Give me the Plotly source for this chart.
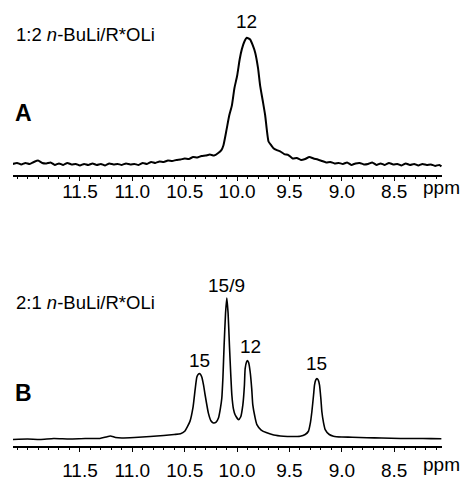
import plotly.graph_objects as go

# ---------------- data ----------------
# Panel A: 1:2 n-BuLi/R*OLi  (chemical shift in ppm, intensity in arbitrary units)
ppm_a = [12.14, 12.10, 12.06, 12.02, 11.98, 11.94, 11.90, 11.86, 11.82, 11.78, 11.74, 11.70,
         11.66, 11.62, 11.58, 11.54, 11.50, 11.46, 11.42, 11.38, 11.34, 11.30, 11.26, 11.22,
         11.18, 11.14, 11.10, 11.06, 11.02, 10.98, 10.94, 10.90, 10.86, 10.82, 10.78, 10.74,
         10.70, 10.66, 10.62, 10.58, 10.54, 10.50, 10.46, 10.42, 10.38, 10.34, 10.30, 10.26,
         10.22, 10.18, 10.15, 10.13, 10.10, 10.075, 10.05, 10.025, 10.00, 9.975, 9.955, 9.93,
         9.907, 9.89, 9.875, 9.85, 9.827, 9.80, 9.78, 9.755, 9.732, 9.70, 9.675, 9.653, 9.62,
         9.589, 9.55, 9.51, 9.47, 9.43, 9.39, 9.35, 9.31, 9.27, 9.23, 9.19, 9.15, 9.11, 9.07,
         9.03, 8.99, 8.95, 8.91, 8.87, 8.83, 8.79, 8.75, 8.71, 8.67, 8.63, 8.59, 8.55, 8.51,
         8.47, 8.43, 8.39, 8.35, 8.31, 8.27, 8.23, 8.19, 8.15, 8.11, 8.07, 8.05]
int_a = [11, 12, 10.5, 12, 11, 13, 14.5, 12, 11.5, 12.5, 10, 11.5,
         10, 12, 10.5, 11, 9.5, 11, 10, 11.5, 10, 11, 9.5, 11.5,
         10.5, 11, 10, 11.5, 10.5, 11, 10, 12, 11, 13, 12, 13.5,
         13, 14.5, 14, 15, 15.5, 16.5, 16, 18, 17.5, 19, 19.5, 20.5,
         19.5, 22, 25, 30, 46, 60, 70, 88, 100, 117, 127, 135,
         138.7, 138, 137, 131, 123.7, 108, 90.3, 75, 60.3, 33.7, 30, 27, 25,
         23.7, 21, 20, 16.5, 17, 15, 16, 18, 16.5, 15.5, 14, 12.5, 13, 11.5,
         12, 11, 12.5, 10, 11.5, 12, 10.5, 11, 12.5, 10, 11.5, 10, 12, 10.5,
         11, 9.5, 11.5, 10, 11, 9.5, 11, 10, 10.5, 9, 10, 8.5]

# Panel B: 2:1 n-BuLi/R*OLi
ppm_b = [12.14, 12.00, 11.88, 11.75, 11.60, 11.45, 11.31, 11.25, 11.21, 11.16, 11.10, 10.98,
         10.83, 10.70, 10.60, 10.54, 10.50, 10.45, 10.42, 10.40, 10.384, 10.37, 10.36, 10.35,
         10.337, 10.32, 10.305, 10.274, 10.25, 10.226, 10.20, 10.178, 10.16, 10.146, 10.135,
         10.124, 10.11, 10.098, 10.086, 10.073, 10.06, 10.05, 10.035, 10.019, 9.987, 9.965,
         9.945, 9.93, 9.923, 9.91, 9.901, 9.89, 9.875, 9.86, 9.85, 9.83, 9.811, 9.77, 9.716,
         9.65, 9.557, 9.48, 9.398, 9.35, 9.319, 9.30, 9.286, 9.27, 9.261, 9.25, 9.238, 9.225,
         9.213, 9.20, 9.191, 9.175, 9.159, 9.12, 9.08, 9.00, 8.90, 8.76, 8.62, 8.44, 8.30,
         8.15, 8.05]
int_b = [7, 7.5, 7, 8, 7.5, 8, 8, 9.5, 10.5, 9, 8.5, 9,
         10, 11, 12, 12.7, 15.3, 25.3, 40, 58, 70.3, 73, 73.7, 73,
         70.3, 62, 52, 33.7, 26, 23.7, 24.5, 28.7, 38, 48.7, 70,
         102, 135, 150.3, 135, 102, 72, 52, 38, 32, 27, 30,
         42, 62, 78.7, 85.5, 87, 85, 75.3, 58, 42, 30, 22, 16.5, 13.7,
         11.5, 10.3, 10, 10.3, 12, 15.3, 24, 35.3, 52, 62, 67, 68.7, 67,
         62, 48, 35.3, 24, 17, 12, 10.3, 9.5, 9.3, 8.7, 8.5, 8, 8,
         7.8, 7.7]

tick_vals = [11.5, 11.0, 10.5, 10.0, 9.5, 9.0, 8.5]
tick_text = ["11.5", "11.0", "10.5", "10.0", "9.5", "9.0", "8.5"]

label_a = "1:2 <i>n</i>-BuLi/R*OLi"
label_b = "2:1 <i>n</i>-BuLi/R*OLi"
peaks_a = [(9.907, "12")]
peaks_b = [(10.36, "15"), (10.098, "15/9"), (9.87, "12"), (9.238, "15")]

# ---------------- figure ----------------
FONT = "Liberation Sans, Arial, Helvetica, sans-serif"
W, H = 465, 481
L, R = 13, 23
x_range = [12.139, 8.044]

fig = go.Figure()
fig.add_trace(go.Scatter(x=ppm_a, y=int_a, mode="lines", xaxis="x", yaxis="y",
                         line=dict(color="black", width=2, shape="spline", smoothing=0.5),
                         showlegend=False, hoverinfo="skip"))
fig.add_trace(go.Scatter(x=ppm_b, y=int_b, mode="lines", xaxis="x2", yaxis="y2",
                         line=dict(color="black", width=1.6, shape="spline", smoothing=0.5),
                         showlegend=False, hoverinfo="skip"))

def py(pix):
    return (H - pix) / H

def px(pix):
    return (pix - L) / (W - L - R)

xcommon = dict(range=x_range, showgrid=False, zeroline=False, showline=True,
               linecolor="black", linewidth=2, ticks="outside", ticklen=4, tickwidth=1.3,
               tickcolor="black", tickmode="array", tickvals=tick_vals, ticktext=tick_text,
               tickfont=dict(family=FONT, size=19, color="black"),
               minor=dict(dtick=0.1, ticks="outside", ticklen=2, tickwidth=1, tickcolor="black",
                          showgrid=False),
               fixedrange=True)
ycommon = dict(visible=False, showgrid=False, zeroline=False, fixedrange=True)

fig.update_layout(
    width=W, height=H, margin=dict(l=L, r=R, t=0, b=0),
    paper_bgcolor="white", plot_bgcolor="white",
    xaxis=dict(**xcommon, anchor="y", domain=[0, 1], ticklabelstandoff=-6),
    yaxis=dict(**ycommon, domain=[py(177), 1], range=[0, 177]),
    xaxis2=dict(**xcommon, anchor="y2", domain=[0, 1], ticklabelstandoff=2),
    yaxis2=dict(**ycommon, domain=[py(452), py(240)], range=[0, 212]),
    font=dict(family=FONT, color="black"),
)

ann = []
ann.append(dict(text=label_a, xref="paper", yref="paper", x=px(14), y=py(35),
                xanchor="left", yanchor="middle", showarrow=False, font=dict(size=18.5)))
ann.append(dict(text="<b>A</b>", xref="paper", yref="paper", x=px(13), y=py(114),
                xanchor="left", yanchor="middle", showarrow=False, font=dict(size=23)))
ann.append(dict(text=label_b, xref="paper", yref="paper", x=px(14), y=py(306),
                xanchor="left", yanchor="middle", showarrow=False, font=dict(size=18.5)))
ann.append(dict(text="<b>B</b>", xref="paper", yref="paper", x=px(13), y=py(398),
                xanchor="left", yanchor="middle", showarrow=False, font=dict(size=23)))
for pos, txt in peaks_a:
    ann.append(dict(text=txt, xref="x", yref="paper", x=pos, y=py(22),
                    xanchor="center", yanchor="middle", showarrow=False, font=dict(size=19)))
peak_label_y = [365, 289, 351, 368]
for (pos, txt), yy in zip(peaks_b, peak_label_y):
    ann.append(dict(text=txt, xref="x2", yref="paper", x=pos, y=py(yy),
                    xanchor="center", yanchor="middle", showarrow=False, font=dict(size=19)))
for yy in (190, 470):
    ann.append(dict(text="ppm", xref="paper", yref="paper", x=px(441), y=py(yy),
                    xanchor="center", yanchor="middle", showarrow=False, font=dict(size=19)))
fig.update_layout(annotations=ann)

fig.write_html("out.html")
